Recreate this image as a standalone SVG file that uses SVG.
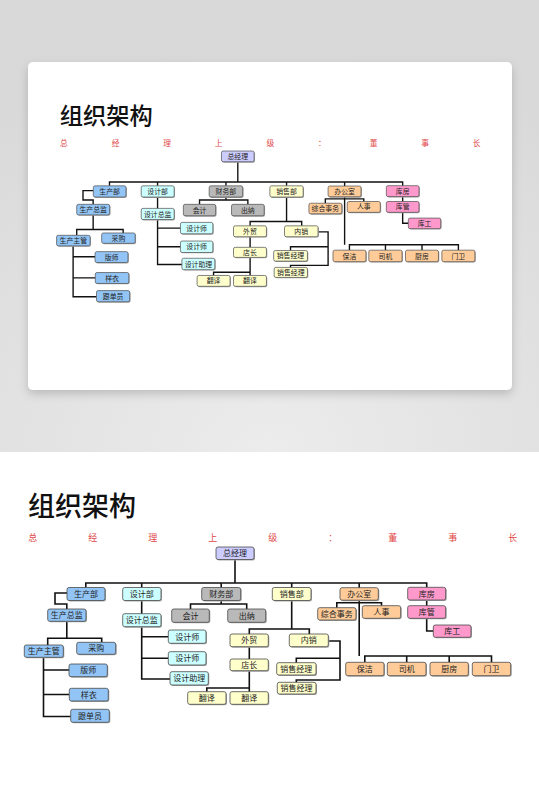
<svg xmlns="http://www.w3.org/2000/svg" xmlns:xlink="http://www.w3.org/1999/xlink" width="539" height="812" viewBox="0 0 539 812">
<defs>
  <radialGradient id="bg" cx="0.5" cy="1" r="0.9">
    <stop offset="0" stop-color="#ececec"/>
    <stop offset="1" stop-color="#d9d9d9"/>
  </radialGradient>
  <filter id="cardShadow" x="-10%" y="-10%" width="120%" height="130%">
    <feDropShadow dx="0" dy="4" stdDeviation="5" flood-color="#000" flood-opacity="0.18"/>
  </filter>
  <style>
    .box rect.f { stroke: #4a4a4a; stroke-width: 0.8; }
    .box rect.s { fill: #a8a8a8; }
    .box text { font-family: "Noto Sans CJK SC", "Noto Sans", sans-serif; font-size: 8px; fill: #222; text-anchor: middle; }
    .blue rect.f { fill: #92c5f6; }
    .cyan rect.f { fill: #ccffff; }
    .gray rect.f { fill: #b9b9b9; }
    .yel rect.f { fill: #ffffcc; }
    .org rect.f { fill: #ffcc99; }
    .pink rect.f { fill: #ff99cc; }
    .lav rect.f { fill: #ccccff; }
    #connectors path { fill: none; stroke: #111; stroke-width: 1.6; }
    .title { font-family: "Noto Sans CJK SC", "Noto Sans", sans-serif; font-size: 27px; font-weight: 500; fill: #111; }
    .sub { font-family: "Noto Sans CJK SC", "Noto Sans", sans-serif; font-size: 9px; fill: #e04848; }
  </style>
</defs>

<rect x="0" y="0" width="539" height="452" fill="url(#bg)"/>
<rect x="0" y="452" width="539" height="360" fill="#ffffff"/>
<rect x="28" y="62" width="484" height="328" rx="5" fill="#ffffff" filter="url(#cardShadow)"/>

<g id="chart">
  <text class="title" x="28" y="516">组织架构</text>
  <g id="subtitle">
    <text class="sub" x="28.3" y="541">总</text>
    <text class="sub" x="88.3" y="541">经</text>
    <text class="sub" x="148.3" y="541">理</text>
    <text class="sub" x="208.3" y="541">上</text>
    <text class="sub" x="268.3" y="541">级</text>
    <text class="sub" x="328.3" y="541">：</text>
    <text class="sub" x="388.3" y="541">董</text>
    <text class="sub" x="448.3" y="541">事</text>
    <text class="sub" x="508.3" y="541">长</text>
  </g>

  <g id="connectors">
    <path d="M235 559.5 V583"/>
    <path d="M85.8 587.5 V583 H426.7 V587.5"/>
    <path d="M141.7 583 V587.5 M221.2 583 V587.5 M291.7 583 V587.5 M359.2 583 V587.7"/>
    <!-- 生产 -->
    <path d="M67 593 H55 V604 H66.8 V609"/>
    <path d="M66.8 621.3 V638.3 M47.7 645 V638.3 H101.7 V642.3"/>
    <path d="M43.5 657.3 V716.5 H70.7 M43.5 670 H69 M43.5 694.5 H69.3"/>
    <!-- 设计 -->
    <path d="M141.7 600.5 V613.7 M141.7 626.7 V679 H170 M141.7 636.7 H168.3 M141.7 658.3 H168.3"/>
    <!-- 财务 -->
    <path d="M221.2 600.5 V604 M190.5 609 V604 H246.7 V609"/>
    <!-- 销售 -->
    <path d="M291.7 600.5 V629 M249.3 634 V629 H309.3 V634"/>
    <path d="M249.3 646.7 V659 M249.3 670.7 V691.7 M206.8 691.7 V688 H249.3"/>
    <path d="M328.3 641 H340 V680 H296.3 V682.3 M340 658.3 H296.3 V662.7"/>
    <!-- 办公室 -->
    <path d="M359.2 600.2 V656 M336.8 607.7 V602.7 H381.5 V605.7"/>
    <path d="M364.8 662.3 V656 H491.5 V662.3 M406.7 656 V662.3 M449.2 656 V662.3"/>
    <!-- 库房 -->
    <path d="M426.7 600 V605.7 M426.7 618.3 V631 H433.3"/>
  </g>

  <g id="n-zjl" class="box lav"><rect class="s" x="217" y="548" width="38" height="12.5" rx="2"/><rect class="f" x="216" y="547" width="38" height="12.5" rx="2"/><text x="235" y="556.3">总经理</text></g>

  <g id="n-scb" class="box blue"><rect class="s" x="68" y="588.5" width="38" height="13" rx="2"/><rect class="f" x="67" y="587.5" width="38" height="13" rx="2"/><text x="86" y="597">生产部</text></g>
  <g id="n-sjb" class="box cyan"><rect class="s" x="123.7" y="588.5" width="38.3" height="13" rx="2"/><rect class="f" x="122.7" y="587.5" width="38.3" height="13" rx="2"/><text x="141.8" y="597">设计部</text></g>
  <g id="n-cwb" class="box gray"><rect class="s" x="202.7" y="588.5" width="39" height="13" rx="2"/><rect class="f" x="201.7" y="587.5" width="39" height="13" rx="2"/><text x="221.2" y="597">财务部</text></g>
  <g id="n-xsb" class="box yel"><rect class="s" x="273.3" y="588.5" width="38.7" height="13" rx="2"/><rect class="f" x="272.3" y="587.5" width="38.7" height="13" rx="2"/><text x="291.7" y="597">销售部</text></g>
  <g id="n-bgs" class="box org"><rect class="s" x="341" y="588.7" width="38.3" height="12.5" rx="2"/><rect class="f" x="340" y="587.7" width="38.3" height="12.5" rx="2"/><text x="359.2" y="597">办公室</text></g>
  <g id="n-kf" class="box pink"><rect class="s" x="408.7" y="588.3" width="38" height="12.7" rx="2"/><rect class="f" x="407.7" y="587.3" width="38" height="12.7" rx="2"/><text x="426.7" y="596.7">库房</text></g>

  <g id="n-sczj" class="box blue"><rect class="s" x="48.7" y="610" width="38.3" height="12.3" rx="2"/><rect class="f" x="47.7" y="609" width="38.3" height="12.3" rx="2"/><text x="66.8" y="618.2">生产总监</text></g>
  <g id="n-sjzj" class="box cyan"><rect class="s" x="123.7" y="614.7" width="38.3" height="13" rx="2"/><rect class="f" x="122.7" y="613.7" width="38.3" height="13" rx="2"/><text x="141.8" y="623.2">设计总监</text></g>
  <g id="n-kj" class="box gray"><rect class="s" x="172.7" y="610" width="37.6" height="13.3" rx="2"/><rect class="f" x="171.7" y="609" width="37.6" height="13.3" rx="2"/><text x="190.5" y="618.6">会计</text></g>
  <g id="n-cn" class="box gray"><rect class="s" x="228.7" y="610" width="38" height="13.3" rx="2"/><rect class="f" x="227.7" y="609" width="38" height="13.3" rx="2"/><text x="246.7" y="618.6">出纳</text></g>
  <g id="n-zhsw" class="box org"><rect class="s" x="318.7" y="608.7" width="38.3" height="12.3" rx="2"/><rect class="f" x="317.7" y="607.7" width="38.3" height="12.3" rx="2"/><text x="336.8" y="616.8">综合事务</text></g>
  <g id="n-rs" class="box org"><rect class="s" x="363.3" y="606.7" width="38.4" height="12.6" rx="2"/><rect class="f" x="362.3" y="605.7" width="38.4" height="12.6" rx="2"/><text x="381.5" y="615">人事</text></g>
  <g id="n-kg" class="box pink"><rect class="s" x="408.7" y="606.7" width="38" height="12.6" rx="2"/><rect class="f" x="407.7" y="605.7" width="38" height="12.6" rx="2"/><text x="426.7" y="615">库管</text></g>
  <g id="n-kgong" class="box pink"><rect class="s" x="434.3" y="626" width="37.7" height="12.3" rx="2"/><rect class="f" x="433.3" y="625" width="37.7" height="12.3" rx="2"/><text x="452.2" y="634.2">库工</text></g>

  <g id="n-sczg" class="box blue"><rect class="s" x="25.3" y="646" width="39" height="12.3" rx="2"/><rect class="f" x="24.3" y="645" width="39" height="12.3" rx="2"/><text x="43.8" y="654.2">生产主管</text></g>
  <g id="n-cg" class="box blue"><rect class="s" x="77.7" y="643.3" width="39" height="12" rx="2"/><rect class="f" x="76.7" y="642.3" width="39" height="12" rx="2"/><text x="96.2" y="651.3">采购</text></g>
  <g id="n-bs" class="box blue"><rect class="s" x="70" y="665" width="38.3" height="12.7" rx="2"/><rect class="f" x="69" y="664" width="38.3" height="12.7" rx="2"/><text x="88.2" y="673.3">版师</text></g>
  <g id="n-yy" class="box blue"><rect class="s" x="70.3" y="689.3" width="39" height="12.7" rx="2"/><rect class="f" x="69.3" y="688.3" width="39" height="12.7" rx="2"/><text x="88.8" y="697.6">样衣</text></g>
  <g id="n-gdy" class="box blue"><rect class="s" x="71.7" y="710.3" width="38.6" height="13" rx="2"/><rect class="f" x="70.7" y="709.3" width="38.6" height="13" rx="2"/><text x="90" y="718.8">跟单员</text></g>

  <g id="n-sjs1" class="box cyan"><rect class="s" x="169.3" y="631" width="37.7" height="13.3" rx="2"/><rect class="f" x="168.3" y="630" width="37.7" height="13.3" rx="2"/><text x="187.2" y="639.6">设计师</text></g>
  <g id="n-sjs2" class="box cyan"><rect class="s" x="169.3" y="652.7" width="37.7" height="13.3" rx="2"/><rect class="f" x="168.3" y="651.7" width="37.7" height="13.3" rx="2"/><text x="187.2" y="661.3">设计师</text></g>
  <g id="n-sjzl" class="box cyan"><rect class="s" x="171" y="672.7" width="38.3" height="13.3" rx="2"/><rect class="f" x="170" y="671.7" width="38.3" height="13.3" rx="2"/><text x="189.2" y="681.3">设计助理</text></g>

  <g id="n-wm" class="box yel"><rect class="s" x="231" y="635" width="38.3" height="12.7" rx="2"/><rect class="f" x="230" y="634" width="38.3" height="12.7" rx="2"/><text x="249.2" y="643.3">外贸</text></g>
  <g id="n-nx" class="box yel"><rect class="s" x="290.3" y="635" width="39" height="12.7" rx="2"/><rect class="f" x="289.3" y="634" width="39" height="12.7" rx="2"/><text x="308.8" y="643.3">内销</text></g>
  <g id="n-dz" class="box yel"><rect class="s" x="231" y="660" width="38.3" height="11.7" rx="2"/><rect class="f" x="230" y="659" width="38.3" height="11.7" rx="2"/><text x="249.2" y="667.8">店长</text></g>
  <g id="n-xsjl1" class="box yel"><rect class="s" x="277.7" y="663.7" width="39.3" height="12.3" rx="2"/><rect class="f" x="276.7" y="662.7" width="39.3" height="12.3" rx="2"/><text x="296.3" y="671.9">销售经理</text></g>
  <g id="n-xsjl2" class="box yel"><rect class="s" x="278.3" y="683.3" width="38.7" height="11.7" rx="2"/><rect class="f" x="277.3" y="682.3" width="38.7" height="11.7" rx="2"/><text x="296.6" y="691.2">销售经理</text></g>
  <g id="n-fy1" class="box yel"><rect class="s" x="188.7" y="692.7" width="38.3" height="12.6" rx="2"/><rect class="f" x="187.7" y="691.7" width="38.3" height="12.6" rx="2"/><text x="206.8" y="701">翻译</text></g>
  <g id="n-fy2" class="box yel"><rect class="s" x="231" y="692.7" width="38.3" height="12.6" rx="2"/><rect class="f" x="230" y="691.7" width="38.3" height="12.6" rx="2"/><text x="249.2" y="701">翻译</text></g>

  <g id="n-bj" class="box org"><rect class="s" x="346.7" y="663.3" width="38.3" height="13.4" rx="2"/><rect class="f" x="345.7" y="662.3" width="38.3" height="13.4" rx="2"/><text x="364.8" y="672">保洁</text></g>
  <g id="n-sj" class="box org"><rect class="s" x="388.3" y="663.3" width="38.7" height="13.4" rx="2"/><rect class="f" x="387.3" y="662.3" width="38.7" height="13.4" rx="2"/><text x="406.7" y="672">司机</text></g>
  <g id="n-cf" class="box org"><rect class="s" x="431" y="663.3" width="38.3" height="13.4" rx="2"/><rect class="f" x="430" y="662.3" width="38.3" height="13.4" rx="2"/><text x="449.2" y="672">厨房</text></g>
  <g id="n-mw" class="box org"><rect class="s" x="473.3" y="663.3" width="38.4" height="13.4" rx="2"/><rect class="f" x="472.3" y="662.3" width="38.4" height="13.4" rx="2"/><text x="491.5" y="672">门卫</text></g>
</g>

<use xlink:href="#chart" href="#chart" transform="matrix(0.86 0 0 0.86 35.7 -319.4)"/>
</svg>
